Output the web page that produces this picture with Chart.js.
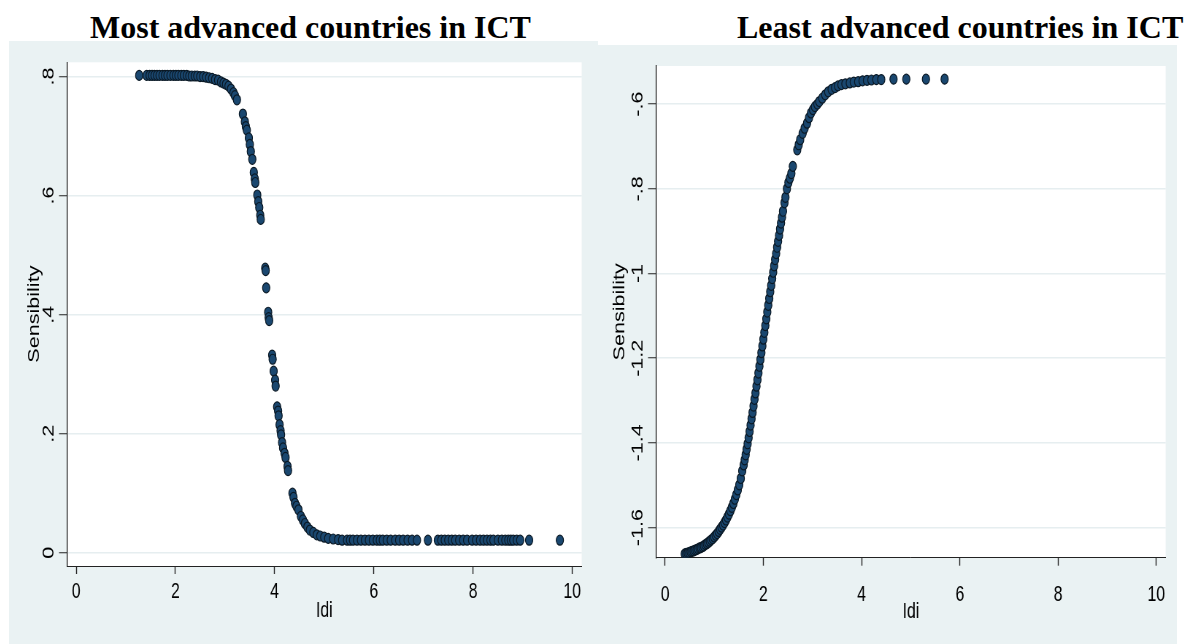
<!DOCTYPE html>
<html>
<head>
<meta charset="utf-8">
<script src="https://cdn.jsdelivr.net/npm/chart.js@4.4.0/dist/chart.umd.min.js"></script>
<style>
  body { margin: 0; background: #fff; width: 1189px; height: 644px; overflow: hidden; position: relative; }
  .title { position: absolute; top: 11px; font: bold 32px/32px "Liberation Serif", "Times New Roman", serif; white-space: nowrap; color: #000; }
  .panel { position: absolute; transform-origin: 0 0; }
</style>
</head>
<body>
<div class="title" style="left:90px">Most advanced countries in ICT</div>
<div class="title" style="left:737px">Least advanced countries in ICT</div>
<div class="panel" id="p1"><canvas id="chart1"></canvas></div>
<div class="panel" id="p2"><canvas id="chart2"></canvas></div>
<script>
// ---- data: most advanced countries (left panel)
const mostIdi = [
  1.27, 1.42, 1.48, 1.53, 1.58, 1.63, 1.68, 1.74, 1.79, 1.84,
  1.90, 1.96, 2.01, 2.06, 2.12, 2.17, 2.23, 2.28, 2.33, 2.39,
  2.44, 2.50, 2.56, 2.62, 2.68, 2.74, 2.80, 2.86, 2.92, 2.97,
  3.02, 3.07, 3.12, 3.17, 3.20, 3.24, 3.36, 3.40, 3.42, 3.44,
  3.48, 3.50, 3.52, 3.55, 3.58, 3.60, 3.61, 3.65, 3.67, 3.69,
  3.71, 3.72, 3.81, 3.82, 3.83, 3.87, 3.88, 3.89, 3.95, 3.96,
  3.98, 4.01, 4.02, 4.05, 4.07, 4.08, 4.10, 4.12, 4.13, 4.15,
  4.17, 4.20, 4.22, 4.26, 4.27, 4.36, 4.38, 4.41, 4.44, 4.48,
  4.53, 4.57, 4.61, 4.66, 4.71, 4.78, 4.85, 4.92, 5.00, 5.08,
  5.18, 5.28, 5.36, 5.46, 5.52, 5.58, 5.66, 5.74, 5.82, 5.90,
  5.98, 6.06, 6.12, 6.18, 6.26, 6.34, 6.43, 6.51, 6.59, 6.68,
  6.77, 6.87, 7.09, 7.29, 7.36, 7.43, 7.50, 7.57, 7.64, 7.72,
  7.80, 7.88, 7.98, 8.06, 8.14, 8.21, 8.28, 8.35, 8.41, 8.50,
  8.58, 8.65, 8.71, 8.76, 8.81, 8.88, 8.95, 9.13, 9.75
];
const mostSens = [
  .802, .802, .802, .802, .802, .802, .802, .802, .802, .802,
  .802, .802, .802, .802, .802, .802, .802, .801, .801, .801,
  .801, .800, .800, .799, .798, .797, .795, .794, .791, .789,
  .787, .784, .779, .773, .768, .761, .737, .724, .716, .710,
  .697, .686, .674, .661, .639, .628, .622, .601, .590, .580,
  .567, .560, .478, .474, .445, .404, .395, .390, .332, .325,
  .305, .290, .280, .245, .238, .230, .215, .205, .198, .185,
  .176, .167, .160, .145, .138, .100, .093, .083, .078, .072,
  .061, .055, .049, .043, .038, .034, .030, .028, .026, .024,
  .023, .022, .021, .021, .021, .021, .021, .021, .021, .021,
  .021, .021, .021, .021, .021, .021, .021, .021, .021, .021,
  .021, .021, .021, .021, .021, .021, .021, .021, .021, .021,
  .021, .021, .021, .021, .021, .021, .021, .021, .021, .021,
  .021, .021, .021, .021, .021, .021, .021, .021, .021
];

// ---- data: least advanced countries (right panel)
const leastIdi = [
  0.40, 0.43, 0.46, 0.49, 0.52, 0.55, 0.58, 0.61, 0.64, 0.67,
  0.70, 0.73, 0.76, 0.79, 0.82, 0.85, 0.88, 0.91, 0.94, 0.97,
  1.00, 1.03, 1.06, 1.09, 1.12, 1.15, 1.18, 1.21, 1.24, 1.27,
  1.30, 1.33, 1.36, 1.39, 1.42, 1.45, 1.48, 1.51, 1.54, 1.57,
  1.60, 1.62, 1.64, 1.66, 1.68, 1.70, 1.72, 1.74, 1.76, 1.78,
  1.80, 1.82, 1.84, 1.86, 1.88, 1.90, 1.92, 1.94, 1.96, 1.98,
  2.00, 2.02, 2.04, 2.06, 2.08, 2.10, 2.12, 2.14, 2.16, 2.18,
  2.20, 2.22, 2.24, 2.26, 2.28, 2.30, 2.32, 2.34, 2.36, 2.38,
  2.40, 2.43, 2.45, 2.48, 2.51, 2.54, 2.57, 2.60, 2.69, 2.72,
  2.75, 2.80, 2.84, 2.89, 2.93, 2.97, 3.01, 3.05, 3.10, 3.14,
  3.20, 3.26, 3.32, 3.39, 3.46, 3.52, 3.59, 3.67, 3.76, 3.84,
  3.93, 4.02, 4.11, 4.20, 4.30, 4.40, 4.65, 4.91, 5.31, 5.69
];
const leastSens = [
  -1.662, -1.661, -1.660, -1.659, -1.657, -1.656, -1.655, -1.653, -1.652, -1.650,
  -1.648, -1.647, -1.645, -1.643, -1.640, -1.638, -1.635, -1.632, -1.629, -1.626,
  -1.622, -1.618, -1.614, -1.609, -1.604, -1.599, -1.594, -1.588, -1.582, -1.575,
  -1.568, -1.560, -1.552, -1.543, -1.533, -1.522, -1.511, -1.499, -1.484, -1.466,
  -1.452, -1.440, -1.428, -1.415, -1.402, -1.388, -1.373, -1.358, -1.343, -1.328,
  -1.313, -1.297, -1.282, -1.266, -1.251, -1.235, -1.219, -1.203, -1.187, -1.171,
  -1.155, -1.139, -1.123, -1.107, -1.091, -1.075, -1.059, -1.043, -1.028, -1.012,
  -0.997, -0.982, -0.967, -0.953, -0.938, -0.924, -0.910, -0.895, -0.881, -0.867,
  -0.853, -0.833, -0.820, -0.800, -0.785, -0.775, -0.764, -0.747, -0.708, -0.696,
  -0.684, -0.669, -0.657, -0.645, -0.632, -0.621, -0.613, -0.606, -0.600, -0.594,
  -0.586, -0.578, -0.571, -0.565, -0.561, -0.557, -0.554, -0.552, -0.550, -0.548,
  -0.547, -0.545, -0.544, -0.543, -0.542, -0.542, -0.541, -0.541, -0.541, -0.541
];

// ---- ticks
const xTicks = [0, 2, 4, 6, 8, 10];
const mostYTicks = [0, 0.2, 0.4, 0.6, 0.8];
const mostYLabels = ['0', '.2', '.4', '.6', '.8'];
const leastYTicks = [-1.6, -1.4, -1.2, -1, -0.8, -0.6];
const leastYLabels = ['-1.6', '-1.4', '-1.2', '-1', '-.8', '-.6'];

// the original graph is squeezed horizontally
const SQ = 0.73;
const FONT = '"Liberation Sans", Arial, sans-serif';
const FS = 21.6;

const bgPlugin = {
  id: 'bg',
  beforeDraw(c) {
    const { ctx, chartArea: a } = c;
    ctx.save();
    ctx.fillStyle = '#eaf2f3';
    ctx.fillRect(0, 0, c.width, c.height);
    ctx.fillStyle = '#ffffff';
    ctx.fillRect(a.left, a.top, a.right - a.left, a.bottom - a.top);
    ctx.restore();
  }
};

function widest(labels) {
  const ctx = document.createElement('canvas').getContext('2d');
  ctx.font = FS + 'px ' + FONT;
  return Math.max(...labels.map(l => ctx.measureText(l).width));
}

function makeChart(id, panelId, p, xs, ys, yTicks, yLabels) {
  const W = Math.round(p.panel.w / SQ);
  const H = p.panel.h;
  const panel = document.getElementById(panelId);
  panel.style.left = p.panel.x + 'px';
  panel.style.top = p.panel.y + 'px';
  panel.style.width = W + 'px';
  panel.style.height = H + 'px';
  panel.style.transform = 'scaleX(' + SQ + ')';

  const el = document.getElementById(id);
  el.width = W;
  el.height = H;

  const yAxisW = (p.plot.left - p.panel.x) / SQ;
  const padRight = W - (p.plot.right - p.panel.x) / SQ;
  const padTop = p.plot.top - p.panel.y;
  const xAxisH = H - (p.plot.bottom - p.panel.y);
  const tickY = 8 / SQ;
  const labelCenter = (p.yLabelX - p.panel.x) / SQ;
  const yLabelPad = yAxisW - tickY - widest(yLabels) / 2 - labelCenter;
  const yTitlePad = (p.yTitleX - p.panel.x) / SQ - FS * 1.2 / 2;

  return new Chart(el, {
    type: 'scatter',
    data: {
      datasets: [{
        data: xs.map((x, i) => ({ x: x, y: ys[i] })),
        backgroundColor: '#1a476f',
        borderColor: '#0a1824',
        borderWidth: 1.2,
        pointRadius: 5,
        pointHoverRadius: 5
      }]
    },
    options: {
      responsive: false,
      animation: false,
      devicePixelRatio: 1,
      layout: { padding: { top: padTop, right: padRight, left: 0, bottom: 0 } },
      plugins: { legend: { display: false }, tooltip: { enabled: false } },
      scales: {
        x: {
          type: 'linear',
          min: p.xMin, max: p.xMax,
          afterBuildTicks: s => { s.ticks = xTicks.map(v => ({ value: v })); },
          afterFit: s => { s.height = xAxisH; },
          grid: { drawOnChartArea: false, tickLength: 8, tickColor: '#222', tickWidth: 1.4 },
          border: { color: '#222', width: 1 },
          ticks: { color: '#000', font: { family: FONT, size: FS }, padding: p.xLabelPad, maxRotation: 0, autoSkip: false },
          title: { display: true, text: 'Idi', color: '#000', font: { family: FONT, size: FS }, padding: { top: 0, bottom: p.xTitlePad } }
        },
        y: {
          type: 'linear',
          min: p.yMin, max: p.yMax,
          afterBuildTicks: s => { s.ticks = yTicks.map(v => ({ value: v })); },
          afterFit: s => { s.width = yAxisW; },
          grid: { color: '#e6eef0', lineWidth: 1.5, tickLength: tickY, tickColor: '#222', tickWidth: 1 },
          border: { color: '#222', width: 1.4 },
          ticks: {
            color: '#000', font: { family: FONT, size: FS }, padding: yLabelPad,
            minRotation: 90, maxRotation: 90, crossAlign: 'center', autoSkip: false,
            callback: (v, i) => yLabels[i]
          },
          title: { display: true, text: 'Sensibility', color: '#000', font: { family: FONT, size: FS }, padding: { top: yTitlePad, bottom: 0 } }
        }
      }
    },
    plugins: [bgPlugin]
  });
}

makeChart('chart1', 'p1', {
  panel: { x: 9, y: 41, w: 589, h: 603 },
  plot: { left: 67, top: 62.3, right: 581.7, bottom: 566 },
  xMin: -0.185, xMax: 10.19, yMin: -0.0224, yMax: 0.824,
  yLabelX: 49, yTitleX: 34.5, xLabelPad: 5, xTitlePad: 20
}, mostIdi, mostSens, mostYTicks, mostYLabels);

makeChart('chart2', 'p2', {
  panel: { x: 598, y: 45, w: 579, h: 599 },
  plot: { left: 656, top: 66, right: 1170.5, bottom: 557.7 },
  xMin: -0.185, xMax: 10.19, yMin: -1.671, yMax: -0.51,
  yLabelX: 638, yTitleX: 620, xLabelPad: 16, xTitlePad: 19
}, leastIdi, leastSens, leastYTicks, leastYLabels);
</script>
</body>
</html>
